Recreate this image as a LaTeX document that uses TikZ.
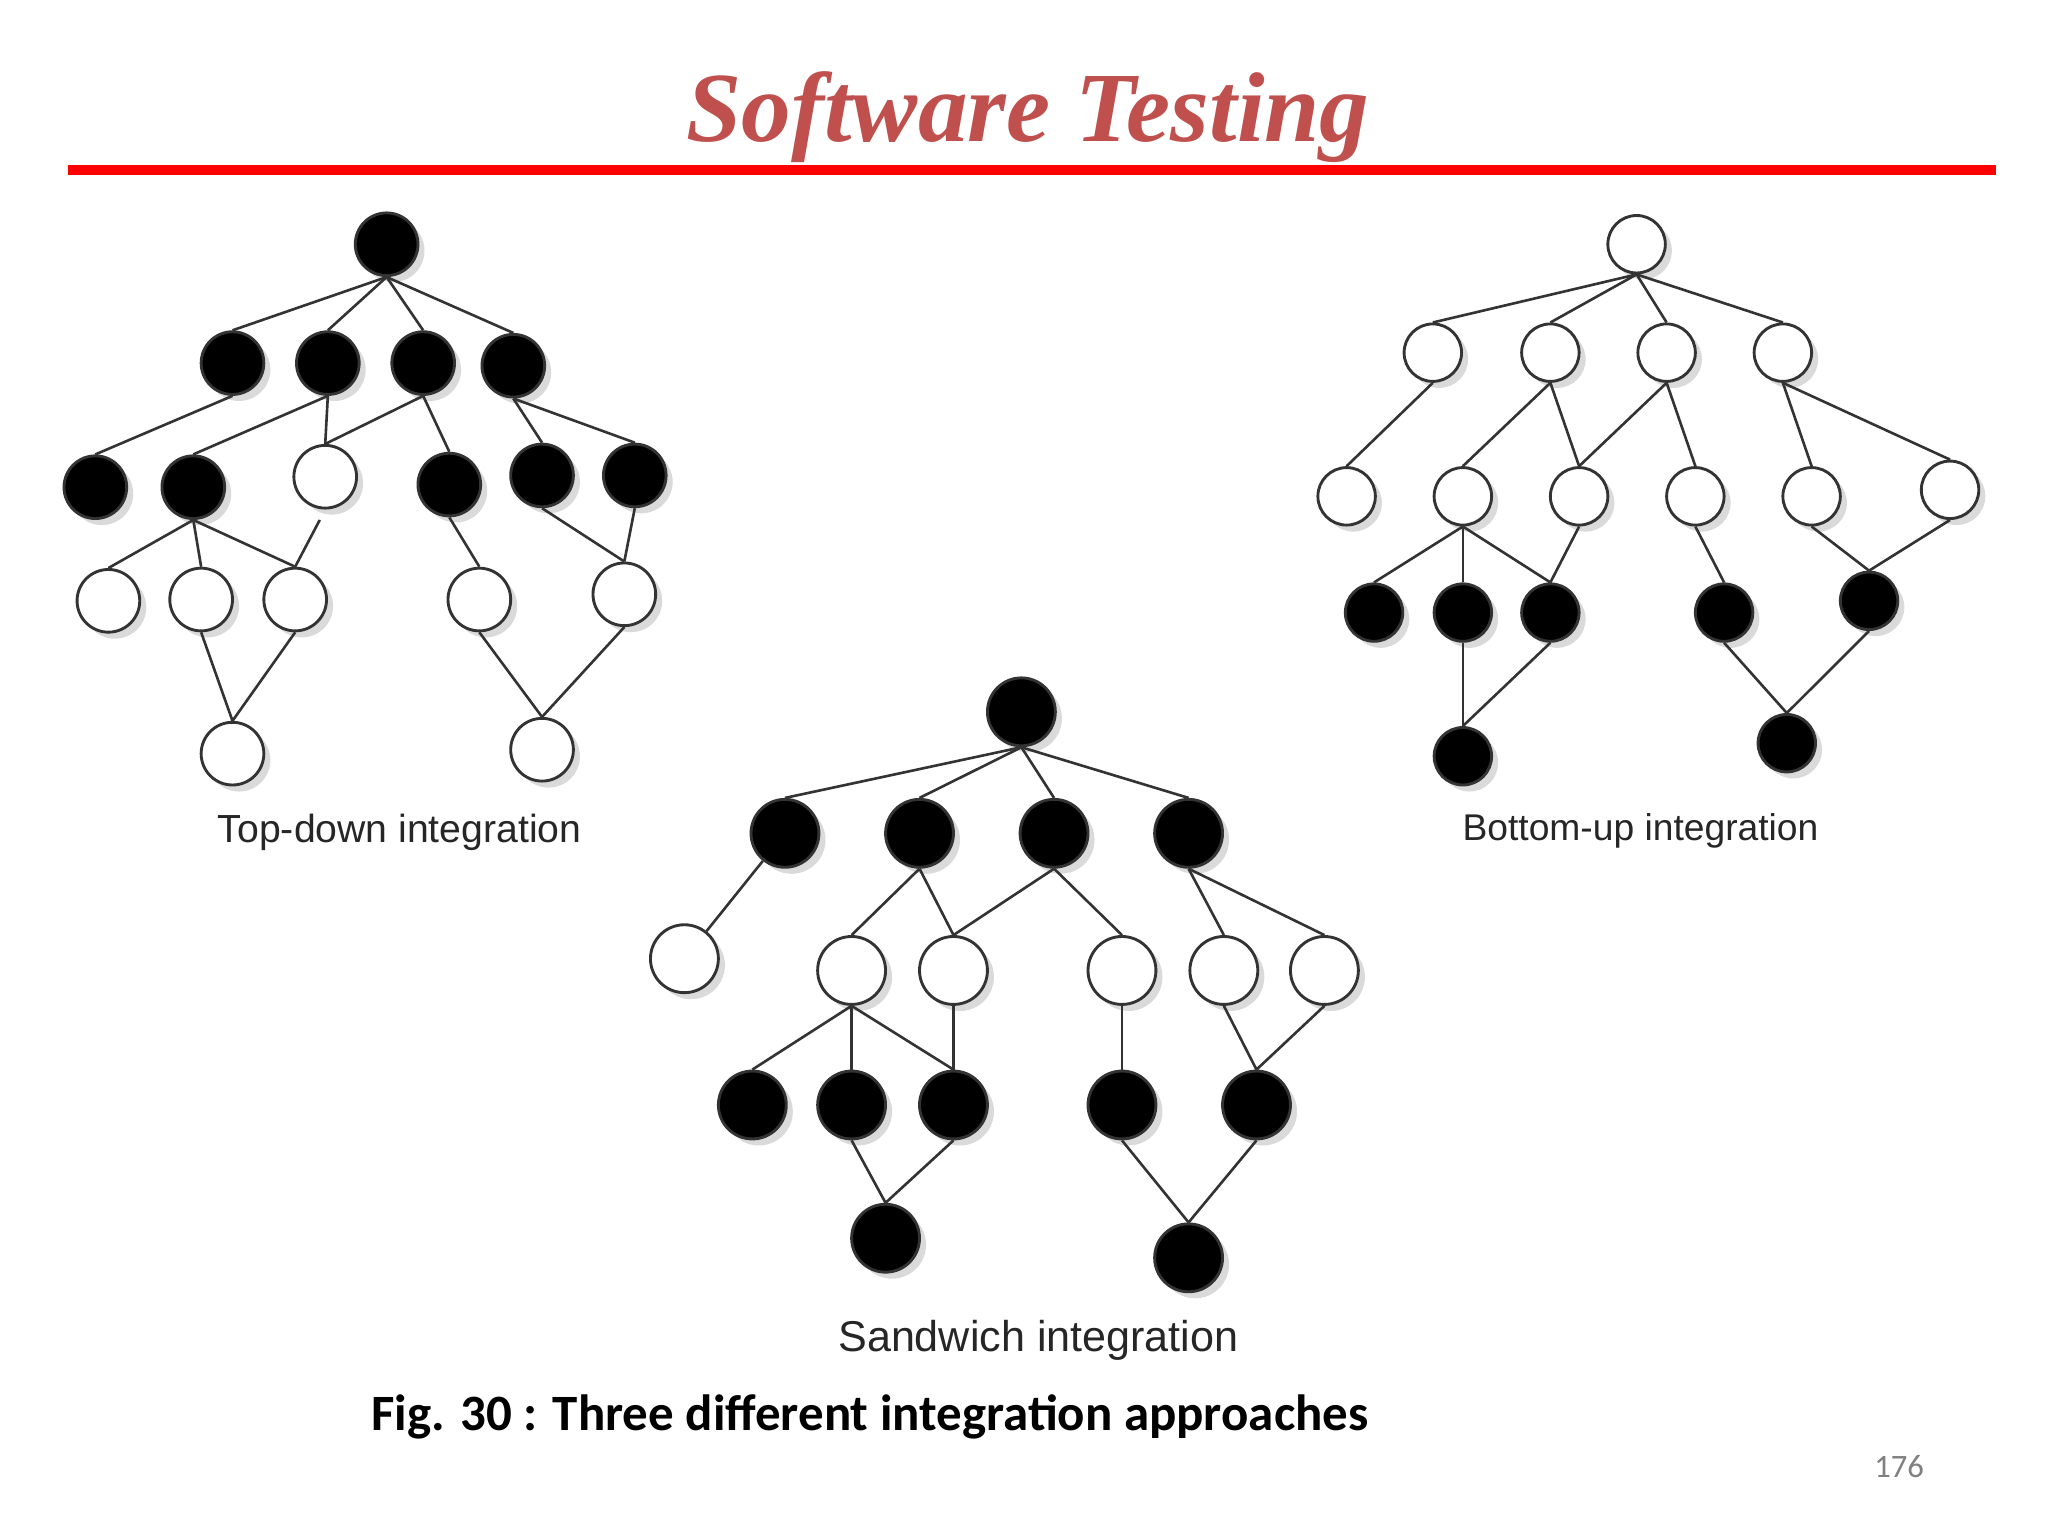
\documentclass[tikz,border=0pt]{standalone}
\usepackage{fontspec}
\setmainfont{Liberation Sans}
\newfontfamily\titlefont{Liberation Serif}
\newfontfamily\capfont{Carlito}
\usetikzlibrary{shadows}
\definecolor{titlered}{HTML}{C0504D}
\definecolor{linegray}{HTML}{333333}
\definecolor{shadowgray}{HTML}{DADADA}
\begin{document}
\begin{tikzpicture}[x=1pt,y=-1pt,
  nodebase/.style={circle, draw=linegray, line width=2.2pt, inner sep=0pt,
    drop shadow={shadow xshift=5pt, shadow yshift=-5pt, fill=shadowgray, opacity=1}},
  blk/.style={nodebase, fill=black},
  wht/.style={nodebase, fill=white},
  td/.style={minimum size=48pt},
  bu/.style={minimum size=44pt},
  sw/.style={minimum size=52pt},
  edge/.style={draw=linegray, line width=2pt},
  lbl/.style={text=black!85, inner sep=0pt}]
\useasboundingbox[fill=white] (0,0) rectangle (1568,1176);

% title
\node[anchor=base, text=titlered, font=\titlefont\bfseries\itshape\fontsize{76}{80}\selectfont, inner sep=0pt] (title) at (787,108) {Software Testing};
\draw[red, line width=8pt] (52,130) -- (1528,130);

% ---------- Top-down ----------
\node[blk,td] (td0) at (296,187) {};
\node[blk,td] (td1) at (178,278) {};
\node[blk,td] (td2) at (251,278) {};
\node[blk,td] (td3) at (324,278) {};
\node[blk,td] (td4) at (393,280) {};
\node[blk,td] (td5) at (73,373) {};
\node[blk,td] (td6) at (148,373) {};
\node[wht,td] (td7) at (249,365) {};
\node[blk,td] (td8) at (344,371) {};
\node[blk,td] (td9) at (415,364) {};
\node[blk,td] (td10) at (486,364) {};
\node[wht,td] (td11) at (83,460) {};
\node[wht,td] (td12) at (154,459) {};
\node[wht,td] (td13) at (226,459) {};
\node[wht,td] (td14) at (367,459) {};
\node[wht,td] (td15) at (478,455) {};
\node[wht,td] (td16) at (178,577) {};
\node[wht,td] (td17) at (415,574) {};
\foreach \a/\b in {td0/td1,td0/td2,td0/td3,td0/td4,td1/td5,td2/td6,td2/td7,td3/td7,td3/td8,
  td4/td9,td4/td10,td6/td11,td6/td12,td6/td13,td8/td14,td9/td15,td10/td15,
  td12/td16,td13/td16,td14/td17,td15/td17}
  \draw[edge] (\a.south) -- (\b.north);
\draw[edge, shorten <=9pt] (td7.south) -- (td13.north);
\node[lbl, font=\fontsize{30}{36}\selectfont] (tdl) at (306,637) {Top-down integration};

% ---------- Bottom-up ----------
\node[wht,bu] (bu0) at (1253,187) {};
\node[wht,bu] (bu1) at (1097,270) {};
\node[wht,bu] (bu2) at (1187,270) {};
\node[wht,bu] (bu3) at (1276,270) {};
\node[wht,bu] (bu4) at (1365,270) {};
\node[wht,bu] (bu5) at (1031,380) {};
\node[wht,bu] (bu6) at (1120,380) {};
\node[wht,bu] (bu7) at (1209,380) {};
\node[wht,bu] (bu8) at (1298,380) {};
\node[wht,bu] (bu9) at (1387,380) {};
\node[wht,bu] (bu10) at (1493,375) {};
\node[blk,bu] (bu11) at (1052,469) {};
\node[blk,bu] (bu12) at (1120,469) {};
\node[blk,bu] (bu13) at (1187,469) {};
\node[blk,bu] (bu14) at (1320,469) {};
\node[blk,bu] (bu15) at (1431,460) {};
\node[blk,bu] (bu16) at (1120,579) {};
\node[blk,bu] (bu17) at (1368,569) {};
\foreach \a/\b in {bu0/bu1,bu0/bu2,bu0/bu3,bu0/bu4,bu1/bu5,bu2/bu6,bu2/bu7,bu3/bu7,bu3/bu8,
  bu4/bu9,bu4/bu10,bu6/bu11,bu6/bu12,bu6/bu13,bu7/bu13,bu8/bu14,bu9/bu15,bu10/bu15,
  bu12/bu16,bu13/bu16,bu14/bu17,bu15/bu17}
  \draw[edge] (\a.south) -- (\b.north);
\node[lbl, font=\fontsize{28.5}{34}\selectfont] (bul) at (1256,636) {Bottom-up integration};

% ---------- Sandwich ----------
\node[blk,sw] (sw0) at (782,545) {};
\node[blk,sw] (sw1) at (601,638) {};
\node[blk,sw] (sw2) at (704,638) {};
\node[blk,sw] (sw3) at (807,638) {};
\node[blk,sw] (sw4) at (910,638) {};
\node[wht,sw] (sw5) at (524,734) {};
\node[wht,sw] (sw6) at (652,743) {};
\node[wht,sw] (sw7) at (730,743) {};
\node[wht,sw] (sw8) at (859,743) {};
\node[wht,sw] (sw9) at (937,743) {};
\node[wht,sw] (sw10) at (1014,743) {};
\node[blk,sw] (sw11) at (576,846) {};
\node[blk,sw] (sw12) at (652,846) {};
\node[blk,sw] (sw13) at (730,846) {};
\node[blk,sw] (sw14) at (859,846) {};
\node[blk,sw] (sw15) at (962,846) {};
\node[blk,sw] (sw16) at (678,948) {};
\node[blk,sw] (sw17) at (910,963) {};
\foreach \a/\b in {sw0/sw1,sw0/sw2,sw0/sw3,sw0/sw4,sw2/sw6,sw2/sw7,sw3/sw7,sw3/sw8,
  sw4/sw9,sw4/sw10,sw6/sw11,sw6/sw12,sw6/sw13,sw7/sw13,sw8/sw14,sw9/sw15,sw10/sw15,
  sw12/sw16,sw13/sw16,sw14/sw17,sw15/sw17}
  \draw[edge] (\a.south) -- (\b.north);
\draw[edge] (sw1) -- (sw5);
\node[lbl, font=\fontsize{33}{38}\selectfont] (swl) at (795,1026) {Sandwich integration};

% caption and page number
\node[inner sep=0pt, font=\capfont\bfseries\fontsize{39}{44}\selectfont] (cap) at (666,1085) {Fig. 30 : Three different integration approaches};
\node[inner sep=0pt, text=black!50, font=\capfont\fontsize{25}{28}\selectfont] (pg) at (1454,1123) {176};
\end{tikzpicture}
\end{document}
